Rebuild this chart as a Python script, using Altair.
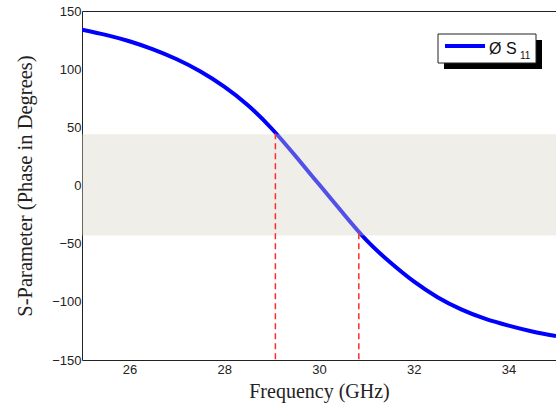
import altair as alt
import pandas as pd

# ---- data ----
freq = [25, 25.5, 26, 26.5, 27, 27.5, 28, 28.5, 29, 29.5, 30,
        30.5, 31, 31.5, 32, 32.5, 33, 33.5, 34, 34.5, 35]
phase = [134, 129.5, 124, 117, 108.5, 98, 85, 69, 49, 25.5, 1,
         -23.5, -47, -66, -82.5, -96, -106.5, -114.5, -120.5, -125.5, -129.5]

band_freq = [25, 35]
band_hi = 44
band_lo = -43

marker_freq = [29.08, 30.84]
marker_phase = [45, -41]
axis_floor = -150

x_ticks = [26, 28, 30, 32, 34]
y_ticks = [-150, -100, -50, 0, 50, 100, 150]

W, H = 474, 349

curve_df = pd.DataFrame({"f": freq, "p": phase})
band_df = pd.DataFrame({"f": [band_freq[0]], "f2": [band_freq[1]],
                        "lo": [band_lo], "hi": [band_hi]})
mark_df = pd.DataFrame({"f": marker_freq, "p": marker_phase,
                        "floor": [axis_floor] * len(marker_freq)})

xscale = alt.Scale(domain=[25, 35], nice=False, zero=False)
yscale = alt.Scale(domain=[-150, 150], nice=False, zero=False)

xaxis = alt.Axis(values=x_ticks, title="Frequency (GHz)", grid=False,
                 ticks=False, domain=False, labelPadding=3,
                 labelFont="Liberation Sans", labelFontSize=13,
                 labelColor="#222", labelFlush=False,
                 titleFont="Liberation Serif", titleFontSize=20,
                 titleFontWeight="normal", titleColor="#222",
                 titleBaseline="alphabetic", titleY=37)
yaxis = alt.Axis(values=y_ticks, title="S-Parameter (Phase in Degrees)",
                 grid=False, ticks=False, domain=False, labelPadding=1,
                 labelFont="Liberation Sans", labelFontSize=13,
                 labelColor="#222", labelFlush=False, labelOverlap=False,
                 titleFont="Liberation Serif", titleFontSize=20.5,
                 titleFontWeight="normal", titleColor="#222",
                 titleBaseline="alphabetic", titleX=-51, titleY=H / 2,
                 titleAngle=270)

curve = alt.Chart(curve_df).mark_line(
    color="#0000ff", strokeWidth=4, interpolate="natural", clip=True
).encode(
    x=alt.X("f:Q", scale=xscale, axis=xaxis),
    y=alt.Y("p:Q", scale=yscale, axis=yaxis),
)

band = alt.Chart(band_df).mark_rect(
    color="rgb(213,210,194)", opacity=0.38
).encode(
    x=alt.X("f:Q", scale=xscale), x2="f2:Q",
    y=alt.Y("lo:Q", scale=yscale), y2="hi:Q",
)

markers = alt.Chart(mark_df).mark_rule(
    color="#ff2a2a", strokeWidth=1.5, strokeDash=[6, 4]
).encode(
    x=alt.X("f:Q", scale=xscale),
    y=alt.Y("p:Q", scale=yscale), y2="floor:Q",
)

# ---- legend (decoration) ----
lx0, ly0 = 438 - 82, 34 - 11
shadow = alt.Chart(pd.DataFrame({"a": [0]})).mark_rect(color="#000").encode(
    x=alt.value(lx0 + 6), x2=alt.value(lx0 + 104),
    y=alt.value(ly0 + 6), y2=alt.value(ly0 + 35),
)
box = alt.Chart(pd.DataFrame({"a": [0]})).mark_rect(
    fill="#fff", stroke="#222", strokeWidth=1
).encode(
    x=alt.value(lx0), x2=alt.value(lx0 + 98),
    y=alt.value(ly0), y2=alt.value(ly0 + 29),
)
leg_line = alt.Chart(pd.DataFrame({"a": [0]})).mark_rule(
    color="#0000ff", strokeWidth=4
).encode(
    x=alt.value(lx0 + 7), x2=alt.value(lx0 + 47), y=alt.value(ly0 + 12),
)
leg_text = alt.Chart(pd.DataFrame({"t": ["Ø S"]})).mark_text(
    font="Liberation Sans", fontSize=16, align="left",
    baseline="alphabetic", color="#111"
).encode(x=alt.value(lx0 + 51), y=alt.value(ly0 + 20), text="t:N")
leg_sub = alt.Chart(pd.DataFrame({"t": ["11"]})).mark_text(
    font="Liberation Sans", fontSize=10, align="left",
    baseline="alphabetic", color="#111"
).encode(x=alt.value(lx0 + 82), y=alt.value(ly0 + 25), text="t:N")

chart = alt.layer(
    curve, band, markers, shadow, box, leg_line, leg_text, leg_sub
).properties(
    width=W, height=H,
    padding={"left": 82, "top": 11, "right": 0, "bottom": 44},
    autosize=alt.AutoSizeParams(type="none"),
    background="#ffffff",
).configure_view(stroke="#222", strokeWidth=1)

chart.save("out.html", embed_options={"renderer": "svg", "actions": False})
